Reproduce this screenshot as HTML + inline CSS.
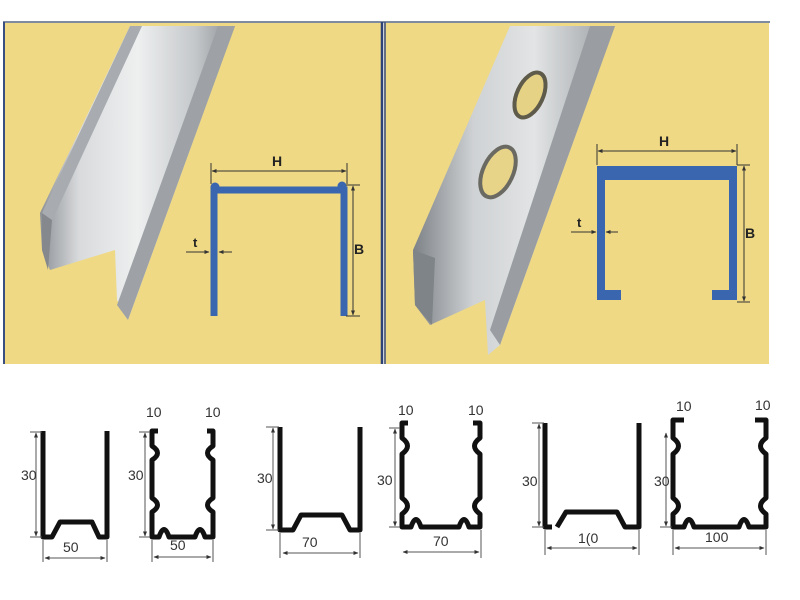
<!DOCTYPE html>
<html><head><meta charset="utf-8"><style>
html,body{margin:0;padding:0;background:#fff;}
svg{display:block;}
text{font-family:"Liberation Sans",sans-serif;}
</style></head><body>
<svg width="800" height="600" viewBox="0 0 800 600" xmlns="http://www.w3.org/2000/svg">
<defs>
<linearGradient id="m1" x1="0" y1="0" x2="1" y2="0">
<stop offset="0" stop-color="#8d9196"/><stop offset="0.2" stop-color="#d8dadc"/><stop offset="0.5" stop-color="#eef0f0"/><stop offset="0.8" stop-color="#c4c7ca"/><stop offset="1" stop-color="#8a8e92"/>
</linearGradient>
<linearGradient id="m2" x1="0" y1="0" x2="1" y2="0">
<stop offset="0" stop-color="#7d8287"/><stop offset="0.3" stop-color="#cfd2d4"/><stop offset="0.6" stop-color="#e2e4e5"/><stop offset="1" stop-color="#9a9ea2"/>
</linearGradient>
<marker id="ar" viewBox="0 0 10 10" refX="9" refY="5" markerWidth="5" markerHeight="5" orient="auto-start-reverse"><path d="M0,1 L10,5 L0,9 z" fill="#333"/></marker>
</defs>
<rect x="3" y="21" width="379" height="343" fill="#efd985"/>
<rect x="384" y="21" width="385" height="343" fill="#efd985"/>
<line x1="3" y1="22" x2="770" y2="22" stroke="#7d8aa0" stroke-width="2"/>
<line x1="4" y1="22" x2="4" y2="364" stroke="#3a4e80" stroke-width="2"/>
<line x1="382" y1="22" x2="382" y2="364" stroke="#2e4277" stroke-width="2.5"/>
<line x1="385" y1="22" x2="385" y2="364" stroke="#3a4e80" stroke-width="1.5"/>
<polygon points="130,26 235,26 128,320 117,300 115,250 50,270 42,250 40,213" fill="url(#m1)"/>
<polygon points="218,26 235,26 128,320 117,305" fill="#9ea2a6"/>
<polygon points="130,26 142,26 50,225 42,213" fill="#a8acb0"/>
<polygon points="42,213 52,220 48,270 42,250" fill="#85898d"/>
<polygon points="510,26 615,26 500,345 488,355 485,300 430,325 415,305 413,250" fill="url(#m2)"/>
<polygon points="590,26 615,26 500,345 490,330" fill="#9a9ea2"/>
<polygon points="413,250 435,258 432,325 415,305" fill="#7f8488"/>
<ellipse cx="530" cy="95" rx="13" ry="24" transform="rotate(25 530 95)" fill="#e6d285" stroke="#5f5b4a" stroke-width="4"/>
<ellipse cx="498" cy="172" rx="15" ry="27" transform="rotate(25 498 172)" fill="#e8d488" stroke="#6a6a62" stroke-width="4"/>
<path d="M214,316 V190 H344 V316" fill="none" stroke="#3a66b0" stroke-width="7"/>
<circle cx="215" cy="187" r="4.5" fill="#3a66b0"/><circle cx="342" cy="186" r="4.5" fill="#3a66b0"/>
<g stroke="#333" stroke-width="1" fill="#333">
<line x1="212" y1="171" x2="346" y2="171" marker-start="url(#ar)" marker-end="url(#ar)"/><line x1="211" y1="163" x2="211" y2="184"/><line x1="347" y1="163" x2="347" y2="184"/>
<line x1="353" y1="186" x2="353" y2="315" marker-start="url(#ar)" marker-end="url(#ar)"/><line x1="346" y1="185" x2="360" y2="185"/><line x1="346" y1="316" x2="360" y2="316"/>
<line x1="186" y1="252" x2="209" y2="252" marker-end="url(#ar)"/><line x1="232" y1="252" x2="219" y2="252" marker-end="url(#ar)"/>
</g>
<text x="272" y="166" font-size="14" font-weight="bold" fill="#222">H</text>
<text x="354" y="254" font-size="14" font-weight="bold" fill="#222">B</text>
<text x="193" y="247" font-size="13" font-weight="bold" fill="#222">t</text>
<path d="M601,300 V173 H733 V300" fill="none" stroke="#3a66b0" stroke-width="8"/>
<rect x="597" y="166" width="140" height="14" fill="#3a66b0"/>
<rect x="597" y="290" width="24" height="10" fill="#3a66b0"/>
<rect x="712" y="290" width="25" height="10" fill="#3a66b0"/>
<g stroke="#333" stroke-width="1">
<line x1="598" y1="151" x2="736" y2="151" marker-start="url(#ar)" marker-end="url(#ar)"/><line x1="597" y1="144" x2="597" y2="165"/><line x1="737" y1="144" x2="737" y2="165"/>
<line x1="744" y1="166" x2="744" y2="301" marker-start="url(#ar)" marker-end="url(#ar)"/><line x1="737" y1="165" x2="750" y2="165"/><line x1="737" y1="302" x2="750" y2="302"/>
<line x1="571" y1="232" x2="596" y2="232" marker-end="url(#ar)"/><line x1="618" y1="232" x2="606" y2="232" marker-end="url(#ar)"/>
</g>
<text x="659" y="146" font-size="14" font-weight="bold" fill="#222">H</text>
<text x="745" y="238" font-size="14" font-weight="bold" fill="#222">B</text>
<text x="577" y="227" font-size="13" font-weight="bold" fill="#222">t</text>
<g fill="none" stroke="#111" stroke-width="5" stroke-linejoin="round">
<path d="M43,431 V537 H52 L60,522 H92 L99,537 H107 V431"/>
<path d="M158,431 H152 V446 Q163,453 152,460 V498 Q163,505 152,512 V537 H159 Q164,522 169,537 H195 Q200,522 205,537 H213 V512 Q202,505 213,498 V460 Q202,453 213,446 V431 H207"/>
<path d="M280,427 V530 H293 L301,515 H342 L350,530 H360 V427"/>
<path d="M408,423 H402 V438 Q413,446 402,454 V498 Q413,506 402,514 V527 H411 Q416,512 421,527 H459 Q464,512 469,527 H480 V514 Q469,506 480,498 V454 Q469,446 480,438 V423 H473"/>
<path d="M545,423 V527 H552 M557,527 L566,512 H617 L625,527 H639 V423"/>
<path d="M684,420 H673 V438 Q684,446 673,454 V498 Q684,506 673,514 V527 H684 Q689,512 694,527 H739 Q744,512 749,527 H766 V514 Q755,506 766,498 V454 Q755,446 766,438 V420 H755"/>
</g>
<g stroke="#555" stroke-width="1">
<line x1="36" y1="433" x2="36" y2="536" marker-start="url(#ar)" marker-end="url(#ar)"/><line x1="30" y1="432" x2="42" y2="432"/><line x1="30" y1="537" x2="42" y2="537"/>
<line x1="45" y1="558" x2="105" y2="558" marker-start="url(#ar)" marker-end="url(#ar)"/><line x1="43" y1="540" x2="43" y2="562"/><line x1="107" y1="540" x2="107" y2="562"/>
<line x1="145" y1="433" x2="145" y2="536" marker-start="url(#ar)" marker-end="url(#ar)"/><line x1="139" y1="432" x2="150" y2="432"/><line x1="139" y1="537" x2="150" y2="537"/>
<line x1="154" y1="557" x2="211" y2="557" marker-start="url(#ar)" marker-end="url(#ar)"/><line x1="152" y1="540" x2="152" y2="562"/><line x1="213" y1="540" x2="213" y2="562"/>
<line x1="273" y1="428" x2="273" y2="529" marker-start="url(#ar)" marker-end="url(#ar)"/><line x1="266" y1="427" x2="279" y2="427"/><line x1="266" y1="530" x2="279" y2="530"/>
<line x1="283" y1="553" x2="358" y2="553" marker-start="url(#ar)" marker-end="url(#ar)"/><line x1="280" y1="533" x2="280" y2="558"/><line x1="360" y1="533" x2="360" y2="558"/>
<line x1="395" y1="429" x2="395" y2="526" marker-start="url(#ar)" marker-end="url(#ar)"/><line x1="389" y1="428" x2="400" y2="428"/><line x1="389" y1="527" x2="400" y2="527"/>
<line x1="403" y1="552" x2="479" y2="552" marker-start="url(#ar)" marker-end="url(#ar)"/><line x1="481" y1="530" x2="481" y2="558"/>
<line x1="539" y1="424" x2="539" y2="526" marker-start="url(#ar)" marker-end="url(#ar)"/><line x1="532" y1="423" x2="544" y2="423"/><line x1="532" y1="527" x2="544" y2="527"/>
<line x1="547" y1="548" x2="637" y2="548" marker-start="url(#ar)" marker-end="url(#ar)"/><line x1="545" y1="530" x2="545" y2="555"/><line x1="639" y1="530" x2="639" y2="555"/>
<line x1="666" y1="433" x2="666" y2="526" marker-start="url(#ar)" marker-end="url(#ar)"/><line x1="660" y1="527" x2="672" y2="527"/>
<line x1="675" y1="548" x2="764" y2="548" marker-start="url(#ar)" marker-end="url(#ar)"/><line x1="673" y1="530" x2="673" y2="555"/><line x1="766" y1="530" x2="766" y2="555"/>
</g>
<g font-size="14" fill="#333">
<text x="21" y="480">30</text><text x="63" y="552">50</text>
<text x="128" y="480">30</text><text x="170" y="550">50</text>
<text x="146" y="417">10</text><text x="205" y="417">10</text>
<text x="257" y="483">30</text><text x="302" y="547">70</text>
<text x="377" y="485">30</text><text x="433" y="546">70</text>
<text x="398" y="415">10</text><text x="468" y="415">10</text>
<text x="522" y="486">30</text><text x="578" y="543">1(0</text>
<text x="654" y="486">30</text><text x="705" y="542">100</text>
<text x="676" y="411">10</text><text x="755" y="410">10</text>
</g>
</svg>
</body></html>
